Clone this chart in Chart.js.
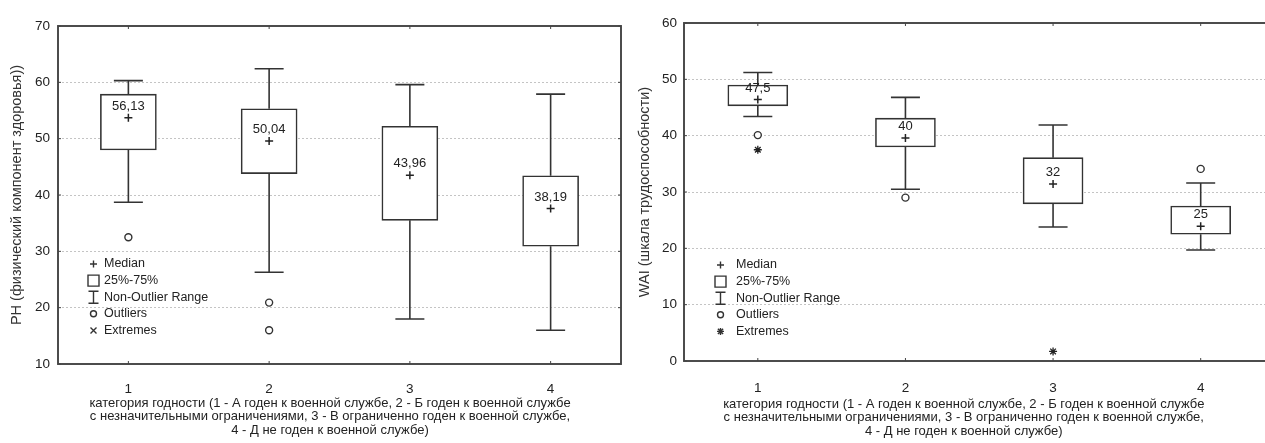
<!DOCTYPE html>
<html lang="ru">
<head>
<meta charset="UTF-8">
<script src="https://cdn.jsdelivr.net/npm/chart.js@4"></script>
<style>
  html, body { margin: 0; padding: 0; background: #fff; overflow: hidden; }
  #wrap { position: relative; width: 1265px; height: 443px; overflow: hidden; }
  #phChart { position: absolute; left: 0; top: 0; }
  #waiChart { position: absolute; left: 630px; top: 0; }
</style>
</head>
<body>
<div id="wrap">
  <canvas id="phChart" width="630" height="443"></canvas>
  <canvas id="waiChart" width="650" height="443"></canvas>
</div>
<script>
// categories (x axis)
const categories = ['1', '2', '3', '4'];
const xTitle = [
  'категория годности (1 - А годен к военной службе, 2 - Б годен к военной службе',
  'с незначительными ограничениями, 3 - В ограниченно годен к военной службе,',
  '4 - Д не годен к военной службе)'
];

// PH chart
const phLow = [38.7, 26.3, 18.0, 16.0];
const phQ1 = [48.0, 43.8, 35.5, 30.9];
const phQ3 = [57.9, 55.3, 52.2, 43.4];
const phHigh = [60.3, 62.4, 59.6, 57.9];
const phMedian = [53.7, 49.6, 43.5, 37.6];
const phLabels = ['56,13', '50,04', '43,96', '38,19'];
const phOutliers = [['1', 32.5], ['2', 20.9], ['2', 16.0]];
const phExtremes = [];

// WAI chart
const waiLow = [43.4, 30.5, 23.8, 19.7];
const waiQ1 = [45.3, 38.0, 27.9, 22.5];
const waiQ3 = [49.0, 43.1, 36.1, 27.5];
const waiHigh = [51.2, 46.8, 41.9, 31.6];
const waiMedian = [46.4, 39.6, 31.4, 23.9];
const waiLabels = ['47,5', '40', '32', '25'];
const waiOutliers = [['1', 40.1], ['2', 29.0], ['4', 34.1]];
const waiExtremes = [['1', 37.5], ['3', 1.7]];

const legendItems = ['Median', '25%-75%', 'Non-Outlier Range', 'Outliers', 'Extremes'];
const INK = '#333';
const TXT = '#222';
const FONT = '"Liberation Sans", Arial, sans-serif';

function drawSymbol(ctx, kind, x, y) {
  ctx.beginPath();
  if (kind === 'plus') {
    ctx.moveTo(x - 3.5, y); ctx.lineTo(x + 3.5, y);
    ctx.moveTo(x, y - 3.5); ctx.lineTo(x, y + 3.5);
  } else if (kind === 'box') {
    ctx.rect(x - 5.5, y - 5.5, 11, 11);
  } else if (kind === 'whisker') {
    ctx.moveTo(x - 5, y - 6); ctx.lineTo(x + 5, y - 6);
    ctx.moveTo(x, y - 6); ctx.lineTo(x, y + 6);
    ctx.moveTo(x - 5, y + 6); ctx.lineTo(x + 5, y + 6);
  } else if (kind === 'circle') {
    ctx.arc(x, y, 3, 0, Math.PI * 2);
  } else if (kind === 'x') {
    ctx.moveTo(x - 3, y - 3); ctx.lineTo(x + 3, y + 3);
    ctx.moveTo(x + 3, y - 3); ctx.lineTo(x - 3, y + 3);
  } else if (kind === 'star') {
    ctx.moveTo(x - 3.5, y); ctx.lineTo(x + 3.5, y);
    ctx.moveTo(x, y - 3.5); ctx.lineTo(x, y + 3.5);
    ctx.moveTo(x - 2.6, y - 2.6); ctx.lineTo(x + 2.6, y + 2.6);
    ctx.moveTo(x + 2.6, y - 2.6); ctx.lineTo(x - 2.6, y + 2.6);
  }
  ctx.stroke();
}

// whiskers, frame, median labels, legend, x title
const boxExtras = {
  id: 'boxExtras',
  afterDatasetsDraw(chart, args, o) {
    const ctx = chart.ctx;
    const xs = chart.scales.x, ys = chart.scales.y;
    const a = chart.chartArea;
    ctx.save();
    ctx.strokeStyle = INK;
    ctx.lineWidth = 1.6;
    // whiskers
    categories.forEach((c, i) => {
      const x = xs.getPixelForValue(i);
      const yl = ys.getPixelForValue(o.low[i]);
      const yh = ys.getPixelForValue(o.high[i]);
      const y1 = ys.getPixelForValue(o.q1[i]);
      const y3 = ys.getPixelForValue(o.q3[i]);
      ctx.beginPath();
      ctx.moveTo(x, y1); ctx.lineTo(x, yl);
      ctx.moveTo(x - 14.5, yl); ctx.lineTo(x + 14.5, yl);
      ctx.moveTo(x, y3); ctx.lineTo(x, yh);
      ctx.moveTo(x - 14.5, yh); ctx.lineTo(x + 14.5, yh);
      ctx.stroke();
    });
    // frame
    ctx.strokeStyle = '#444';
    ctx.lineWidth = 1.9;
    ctx.strokeRect(a.left, a.top, a.right - a.left, a.bottom - a.top);
    // small inner ticks
    ctx.lineWidth = 1;
    ctx.beginPath();
    categories.forEach((c, i) => {
      const x = xs.getPixelForValue(i);
      ctx.moveTo(x, a.top); ctx.lineTo(x, a.top + 3);
      ctx.moveTo(x, a.bottom); ctx.lineTo(x, a.bottom - 3);
    });
    ys.ticks.forEach(t => {
      const y = ys.getPixelForValue(t.value);
      ctx.moveTo(a.left, y); ctx.lineTo(a.left + 3, y);
      ctx.moveTo(a.right, y); ctx.lineTo(a.right - 3, y);
    });
    ctx.stroke();
    // median labels
    ctx.fillStyle = TXT;
    ctx.font = '13px ' + FONT;
    ctx.textAlign = 'center';
    ctx.textBaseline = 'middle';
    categories.forEach((c, i) => {
      ctx.fillText(o.labels[i], xs.getPixelForValue(i), ys.getPixelForValue(o.median[i]) - 11.5);
    });
    // legend
    ctx.textAlign = 'left';
    ctx.font = '12.5px ' + FONT;
    ctx.strokeStyle = INK;
    ctx.lineWidth = 1.4;
    const kinds = ['plus', 'box', 'whisker', 'circle', o.extremeKind];
    legendItems.forEach((t, k) => {
      const y = a.bottom - o.legendUp + k * 16.6;
      drawSymbol(ctx, kinds[k], a.left + o.symDx, y);
      ctx.fillText(t, a.left + o.textDx, y);
    });
    // x axis title
    ctx.font = '13px ' + FONT;
    ctx.textAlign = 'center';
    ctx.fillStyle = TXT;
    const cx = (a.left + a.right) / 2 + o.titleShift;
    xTitle.forEach((line, k) => {
      ctx.fillText(line, cx, o.titleTop + k * 13.5);
    });
    ctx.restore();
  }
};

function makeChart(id, s) {
  const datasets = [
    {
      type: 'bar',
      data: categories.map((c, i) => [s.q1[i], s.q3[i]]),
      backgroundColor: '#fff',
      borderColor: INK,
      borderWidth: 1.6,
      borderSkipped: false,
      barThickness: s.boxWidth,
      order: 3
    },
    {
      type: 'line',
      showLine: false,
      data: categories.map((c, i) => ({ x: c, y: s.median[i] })),
      pointStyle: 'cross',
      pointRadius: 4,
      borderColor: '#222',
      borderWidth: 1.5,
      order: 1
    },
    {
      type: 'line',
      showLine: false,
      data: s.outliers.map(p => ({ x: p[0], y: p[1] })),
      pointStyle: 'circle',
      pointRadius: 3.5,
      backgroundColor: '#fff',
      borderColor: INK,
      borderWidth: 1.4,
      order: 1
    },
    {
      type: 'line',
      showLine: false,
      data: s.extremes.map(p => ({ x: p[0], y: p[1] })),
      pointStyle: 'star',
      pointRadius: 4,
      borderColor: '#222',
      borderWidth: 1.3,
      order: 1
    }
  ];
  return new Chart(document.getElementById(id), {
    type: 'bar',
    data: { labels: categories, datasets: datasets },
    plugins: [boxExtras],
    options: {
      responsive: false,
      animation: false,
      layout: { padding: { left: 0, top: s.padTop, right: s.padRight, bottom: 0 } },
      plugins: {
        legend: { display: false },
        tooltip: { enabled: false },
        boxExtras: s.extras
      },
      scales: {
        x: {
          grid: { display: false },
          border: { display: false },
          ticks: { color: TXT, font: { family: FONT, size: 13.5 }, padding: s.xTickPad },
          afterFit: sc => { sc.height = s.xHeight; }
        },
        y: {
          min: s.min,
          max: s.max,
          ticks: { stepSize: 10, color: TXT, font: { family: FONT, size: 13.5 }, padding: s.yTickPad },
          grid: {
            drawTicks: false,
            color: c => (c.tick && (c.tick.value === s.min || c.tick.value === s.max)) ? 'rgba(0,0,0,0)' : '#c4c4c4',
            lineWidth: 1
          },
          border: { display: false, dash: [2, 2] },
          title: {
            display: true,
            text: s.yTitle,
            color: '#333',
            font: { family: FONT, size: s.yTitleSize },
            padding: { top: s.yTitlePad, bottom: 0 }
          },
          afterFit: sc => { sc.width = s.yWidth; }
        }
      }
    }
  });
}

makeChart('phChart', {
  q1: phQ1, q3: phQ3, median: phMedian, outliers: phOutliers, extremes: phExtremes,
  min: 10, max: 70, boxWidth: 56,
  padTop: 26, padRight: 9, xHeight: 79, yWidth: 58,
  xTickPad: 9, yTickPad: 8, yTitlePad: 8, yTitleSize: 14.5,
  yTitle: 'PH (физический компонент здоровья))',
  extras: {
    low: phLow, high: phHigh, q1: phQ1, q3: phQ3, median: phMedian, labels: phLabels,
    extremeKind: 'x', symDx: 35.5, textDx: 46, legendUp: 100,
    titleShift: -9.5, titleTop: 403
  }
});

makeChart('waiChart', {
  q1: waiQ1, q3: waiQ3, median: waiMedian, outliers: waiOutliers, extremes: waiExtremes,
  min: 0, max: 60, boxWidth: 60,
  padTop: 23, padRight: 5, xHeight: 82, yWidth: 54,
  xTickPad: 11, yTickPad: 7, yTitlePad: 6, yTitleSize: 14.5,
  yTitle: 'WAI (шкала трудоспособности)',
  extras: {
    low: waiLow, high: waiHigh, q1: waiQ1, q3: waiQ3, median: waiMedian, labels: waiLabels,
    extremeKind: 'star', symDx: 36.5, textDx: 52, legendUp: 96,
    titleShift: -15.5, titleTop: 404
  }
});
</script>
</body>
</html>
